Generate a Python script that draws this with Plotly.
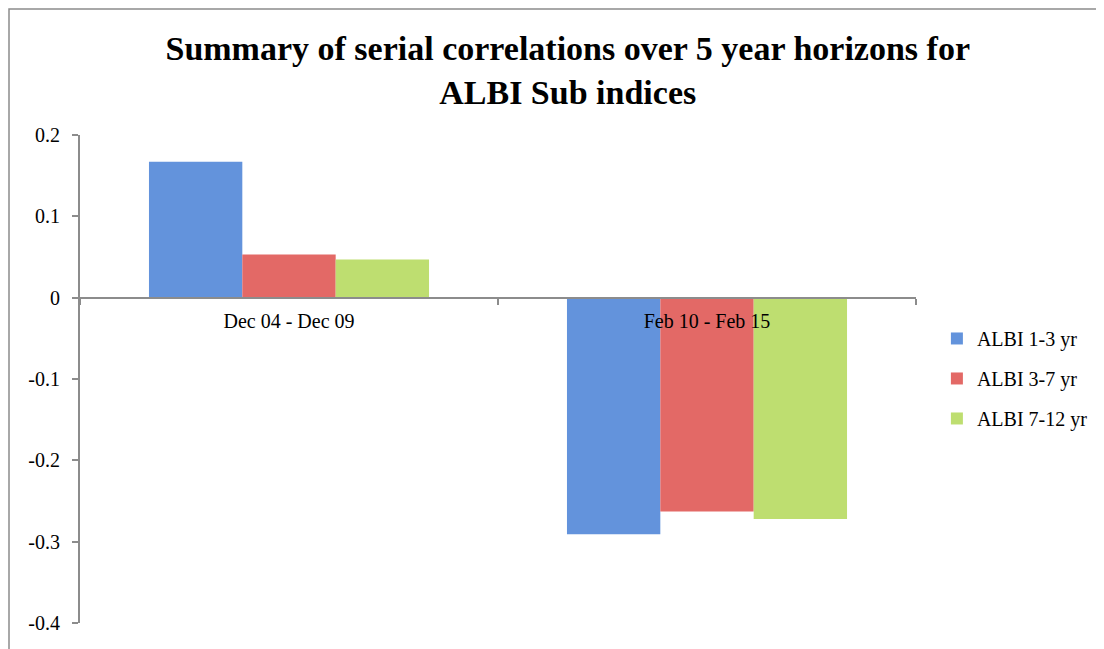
import plotly.graph_objects as go

periods = ["Dec 04 - Dec 09", "Feb 10 - Feb 15"]
series = ["ALBI 1-3 yr", "ALBI 3-7 yr", "ALBI 7-12 yr"]
albi_1_3 = [0.167, -0.291]
albi_3_7 = [0.053, -0.263]
albi_7_12 = [0.047, -0.272]
y_ticks = [-0.4, -0.3, -0.2, -0.1, 0, 0.1, 0.2]
y_tick_text = ["-0.4", "-0.3", "-0.2", "-0.1", "0", "0.1", "0.2"]
colors = ["#6393dc", "#e36966", "#bede70"]

font = "Liberation Serif"

fig = go.Figure()
for name, vals, c in zip(series, [albi_1_3, albi_3_7, albi_7_12], colors):
    fig.add_trace(go.Bar(
        x=periods, y=vals, name=name, legendgroup=name,
        marker=dict(color=c, line=dict(width=0)),
    ))

# the page puts the figure 8px in from the window corner
fig.update_layout(
    width=1104, height=649,
    paper_bgcolor="white", plot_bgcolor="white",
    margin=dict(l=72, r=196, t=127, b=34, autoexpand=False),
    barmode="group", bargap=0.33, bargroupgap=0,
    font=dict(family=font, size=20, color="black"),
    title=dict(
        text="<b>Summary of serial correlations over 5 year horizons for<br>ALBI Sub indices</b>",
        x=0.507, xanchor="center", y=1 - 52 / 649, yanchor="top",
        font=dict(family=font, size=34, color="black"),
    ),
    legend=dict(
        x=1.025, y=0.623, xanchor="left", yanchor="top",
        font=dict(family=font, size=20), tracegroupgap=11,
        bgcolor="rgba(0,0,0,0)",
    ),
    showlegend=True,
)

fig.update_yaxes(
    range=[-0.4, 0.2], tickvals=y_ticks, ticktext=y_tick_text,
    showgrid=False, zeroline=False, automargin=False,
    showline=True, linecolor="#8c8c8c", linewidth=2,
    ticks="outside", ticklen=6, tickcolor="#8c8c8c", tickwidth=1.5,
    ticklabelstandoff=8,
)
fig.update_xaxes(
    anchor="free", position=(0 + 0.4) / 0.6, automargin=False,
    showgrid=False, zeroline=False,
    showline=True, linecolor="#8c8c8c", linewidth=2,
    ticks="outside", ticklen=6, tickcolor="#8c8c8c", tickwidth=1.5,
    tickson="boundaries", ticklabelstandoff=5,
)

# outer chart frame
fig.add_shape(
    type="rect", xref="paper", yref="paper",
    x0=(1 - 72) / 836, x1=(1089 - 72) / 836,
    y0=-0.2, y1=(615 - 1) / 488,
    line=dict(color="#8c8c8c", width=1.5), layer="below",
)

fig.write_html("out.html")
